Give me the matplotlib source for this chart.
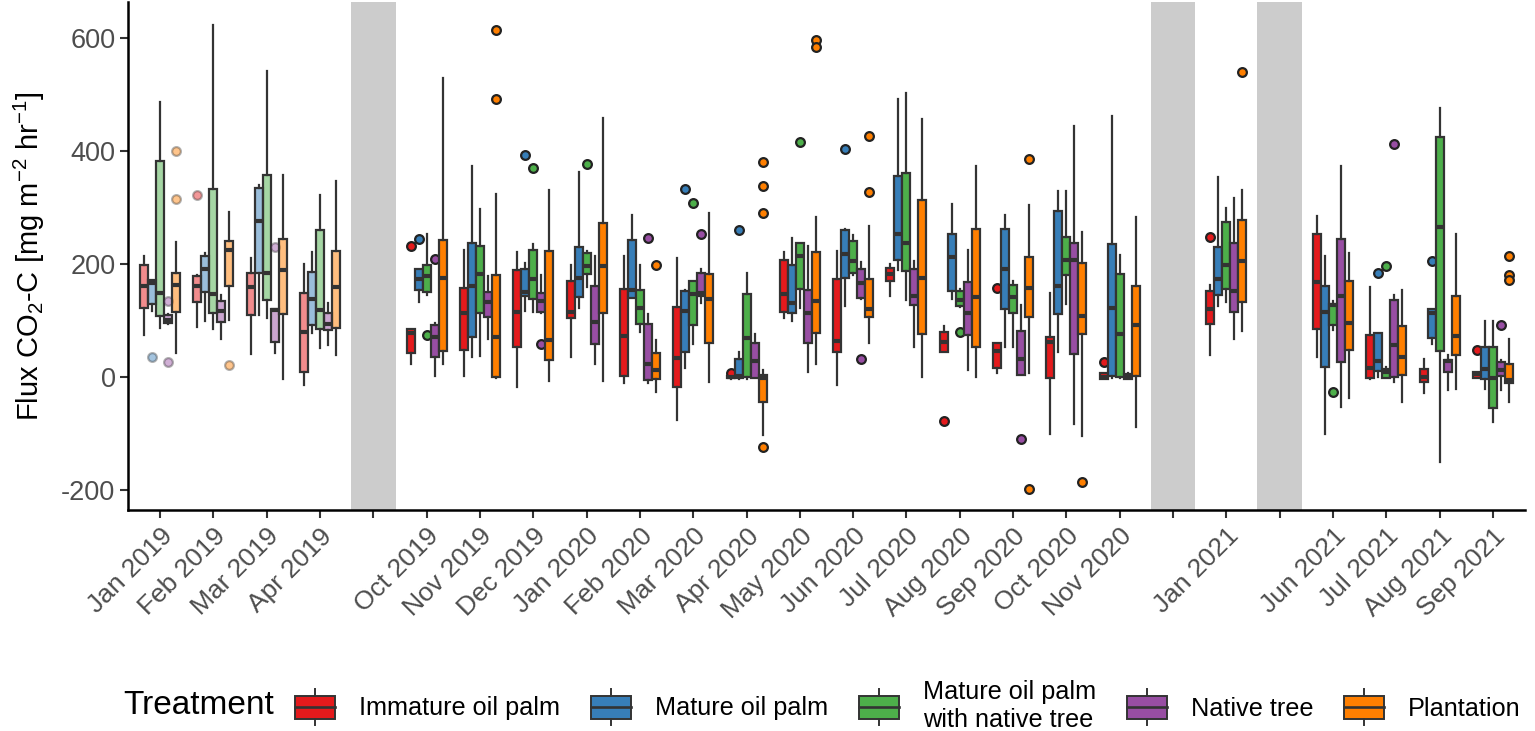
import matplotlib.pyplot as plt
from matplotlib.colors import to_rgba
from matplotlib.patches import Patch, Rectangle
from matplotlib.lines import Line2D
from matplotlib.legend_handler import HandlerBase

plt.rcParams['font.family'] = ['Liberation Sans', 'DejaVu Sans']
plt.rcParams['mathtext.fontset'] = 'custom'
plt.rcParams['mathtext.rm'] = 'Liberation Sans'

# x slots, empty label = gap in sampling (grey band)
slot_labels = [
    "Jan 2019", "Feb 2019", "Mar 2019", "Apr 2019", "",
    "Oct 2019", "Nov 2019", "Dec 2019", "Jan 2020", "Feb 2020", "Mar 2020",
    "Apr 2020", "May 2020", "Jun 2020", "Jul 2020", "Aug 2020", "Sep 2020",
    "Oct 2020", "Nov 2020", "", "Jan 2021", "",
    "Jun 2021", "Jul 2021", "Aug 2021", "Sep 2021",
]
months = [m for m in slot_labels if m]
faded = ["Jan 2019", "Feb 2019", "Mar 2019", "Apr 2019"]

treatments = ["Immature oil palm", "Mature oil palm", "Mature oil palm\nwith native tree",
              "Native tree", "Plantation"]
colors = ["#E41A1C", "#377EB8", "#4DAF4A", "#984EA3", "#FF7F00"]

# box stats per month: (whisker low, q1, median, q3, whisker high)
immature = [
    (74, 122, 162, 199, 214), (89, 133, 161, 179, 181), (41, 110, 160, 184, 211),
    (-14, 10, 80, 149, 201), (24, 43, 79, 85, 85), (2, 48, 113, 158, 226),
    (-17, 54, 115, 189, 221), (35, 104, 116, 170, 199), (-11, 2, 73, 156, 214),
    (-76, -17, 34, 125, 211), (-3, -1, 0, 2, 3), (104, 115, 147, 207, 222),
    (-13, 45, 64, 174, 224), (143, 170, 182, 194, 201), (44, 44, 63, 80, 90),
    (8, 17, 46, 61, 61), (-100, -1, 63, 71, 149), (-4, -3, 1, 7, 8),
    (39, 95, 120, 153, 163), (35, 85, 168, 253, 286), (-4, -2, 17, 74, 160),
    (-28, -8, 1, 14, 33), (-2, -1, 5, 9, 10),
]
mature = [
    (117, 129, 166, 172, 172), (100, 150, 192, 215, 220), (110, 185, 276, 334, 340),
    (79, 92, 138, 187, 221), (133, 154, 173, 191, 191), (35, 71, 161, 237, 374),
    (117, 143, 151, 191, 202), (122, 142, 175, 231, 363), (140, 140, 154, 243, 287),
    (17, 44, 118, 152, 155), (-4, -2, 2, 33, 44), (100, 113, 132, 198, 247),
    (126, 176, 218, 260, 263), (189, 208, 253, 356, 493), (139, 152, 213, 254, 307),
    (54, 120, 192, 263, 287), (45, 111, 162, 294, 330), (-1, 2, 122, 235, 463),
    (126, 145, 174, 230, 355), (-101, 18, 116, 161, 214), (1, 11, 28, 79, 79),
    (58, 70, 113, 120, 120), (-21, -4, 14, 54, 99),
]
mixed = [
    (87, 108, 149, 382, 487), (85, 113, 148, 333, 623), (104, 136, 184, 357, 542),
    (51, 86, 119, 260, 323), (145, 150, 179, 198, 253), (37, 113, 182, 232, 297),
    (116, 138, 173, 226, 235), (159, 182, 197, 219, 223), (80, 95, 123, 155, 199),
    (58, 92, 147, 171, 171), (-4, 1, 70, 148, 185), (122, 156, 215, 237, 237),
    (180, 184, 205, 241, 251), (136, 188, 238, 361, 503), (125, 126, 136, 152, 156),
    (54, 113, 142, 164, 171), (129, 180, 208, 248, 330), (-1, 1, 77, 182, 216),
    (133, 156, 199, 275, 300), (83, 93, 127, 130, 135), (-2, -1, 9, 14, 18),
    (-150, 46, 266, 425, 476), (-80, -54, -1, 54, 99),
]
native = [
    (94, 96, 102, 110, 111), (67, 97, 117, 135, 145), (42, 63, 119, 121, 121),
    (57, 84, 95, 113, 132), (2, 36, 71, 92, 96), (68, 106, 133, 150, 179),
    (114, 116, 135, 149, 181), (24, 58, 98, 161, 215), (-11, -5, 23, 95, 111),
    (132, 143, 149, 184, 192), (-2, -1, 29, 61, 77), (9, 60, 113, 154, 232),
    (139, 141, 167, 191, 204), (54, 127, 143, 191, 205), (12, 74, 113, 169, 226),
    (4, 4, 33, 81, 128), (-83, 41, 208, 237, 444), (-4, -3, 0, 5, 8),
    (68, 115, 152, 237, 317), (-53, 27, 144, 244, 374), (-8, 1, 57, 136, 145),
    (-22, 9, 28, 31, 40), (-23, 2, 12, 27, 30),
]
plantation = [
    (42, 116, 163, 184, 240), (102, 162, 226, 241, 292), (-4, 112, 189, 244, 357),
    (39, 87, 159, 223, 348), (23, 46, 176, 243, 530), (-1, 1, 71, 181, 325),
    (-7, 31, 66, 223, 332), (-7, 113, 197, 273, 458), (-27, -4, 12, 43, 66),
    (-9, 60, 139, 182, 290), (-103, -43, -1, 4, 12), (24, 79, 135, 221, 284),
    (60, 107, 120, 174, 268), (1, 76, 176, 313, 457), (1, 54, 142, 263, 374),
    (7, 107, 157, 213, 304), (-104, 76, 108, 202, 257), (-88, 3, 93, 162, 283),
    (81, 133, 205, 278, 332), (-36, 48, 96, 171, 219), (-44, 4, 36, 91, 154),
    (-20, 40, 73, 143, 254), (-43, -11, -5, 24, 67),
]

# outlying points
immature_out = {"Feb 2019": [322], "Oct 2019": [233], "Apr 2020": [7], "Aug 2020": [-78],
                "Sep 2020": [158], "Nov 2020": [27], "Jan 2021": [248], "Sep 2021": [49]}
mature_out = {"Jan 2019": [35], "Oct 2019": [244], "Dec 2019": [394], "Mar 2020": [333],
              "Apr 2020": [261], "Jun 2020": [404], "Jul 2021": [185], "Aug 2021": [206]}
mixed_out = {"Oct 2019": [74], "Dec 2019": [370], "Jan 2020": [378], "Mar 2020": [308],
             "May 2020": [417], "Aug 2020": [80], "Jun 2021": [-26], "Jul 2021": [197]}
native_out = {"Jan 2019": [135, 27], "Mar 2019": [230], "Oct 2019": [209], "Dec 2019": [58],
              "Feb 2020": [247], "Mar 2020": [253], "Jun 2020": [32], "Sep 2020": [-109],
              "Jul 2021": [412], "Sep 2021": [93]}
plantation_out = {"Jan 2019": [400, 315], "Feb 2019": [22], "Nov 2019": [614, 493],
                  "Feb 2020": [198], "Apr 2020": [381, 339, 291, -123], "May 2020": [597, 585],
                  "Jun 2020": [427, 327], "Sep 2020": [386, -197], "Oct 2020": [-185],
                  "Jan 2021": [540], "Sep 2021": [215, 181, 172]}

series = [immature, mature, mixed, native, plantation]
outliers = [immature_out, mature_out, mixed_out, native_out, plantation_out]
offsets = [-0.3, -0.15, 0.0, 0.15, 0.3]
edge = "#333333"

fig = plt.figure(figsize=(15.35, 7.31), dpi=100)
ax = fig.add_axes([128 / 1535, 1 - 510 / 731, 1397 / 1535, 508 / 731])

for i, lab in enumerate(slot_labels):
    if not lab:
        ax.axvspan(i - 0.42, i + 0.42, color="#CCCCCC", lw=0, zorder=0)

for k in range(5):
    col = colors[k]
    for m, s in zip(months, series[k]):
        a = 0.5 if m in faded else 1.0
        lo, q1, med, q3, hi = s
        stats = dict(whislo=lo, q1=q1, med=med, q3=q3, whishi=hi,
                     fliers=outliers[k].get(m, []))
        x = slot_labels.index(m) + offsets[k]
        ax.bxp([stats], positions=[x], widths=0.15, patch_artist=True,
               showcaps=False, manage_ticks=False,
               boxprops=dict(facecolor=to_rgba(col, a), edgecolor=edge, lw=1.6),
               medianprops=dict(color=edge, lw=3.0, solid_capstyle="butt"),
               whiskerprops=dict(color=edge, lw=1.6),
               flierprops=dict(marker="o", markersize=6.3,
                               markerfacecolor=to_rgba(col, 0.45 if a < 1 else 1),
                               markeredgecolor=to_rgba("#222222", 0.35 if a < 1 else 1),
                               markeredgewidth=1.6))

ax.set_xlim(-0.6, 25.6)
ax.set_ylim(-235, 664)
ax.set_xticks(range(len(slot_labels)))
ax.set_xticklabels(slot_labels, rotation=45, ha="right", va="top",
                   rotation_mode="anchor", fontsize=19, color="#4D4D4D")
ax.set_yticks([-200, 0, 200, 400, 600])
ax.set_yticklabels(["-200", "0", "200", "400", "600"], fontsize=19.5, color="#4D4D4D")
ax.tick_params(axis="both", direction="out", length=6, width=1.5, color="#333333")
ax.tick_params(axis="x", pad=4)
ax.tick_params(axis="y", pad=3)
for sp in ["top", "right"]:
    ax.spines[sp].set_visible(False)
for sp in ["left", "bottom"]:
    ax.spines[sp].set_linewidth(1.8)
    ax.spines[sp].set_color("black")

ax.set_ylabel(r"Flux CO$_\mathregular{2}$-C [mg m$^\mathregular{-2}$ hr$^\mathregular{-1}$]",
              fontsize=21)
ax.yaxis.set_label_coords(-0.058, 0.5)


class BoxKey(HandlerBase):
    def create_artists(self, legend, orig_handle, xd, yd, width, height, fontsize, trans):
        x0, y0 = -xd, -yd
        cx = x0 + width / 2
        rect = Rectangle((x0, y0 + 0.18 * height), width, 0.64 * height,
                         facecolor=orig_handle.get_facecolor(), edgecolor=edge,
                         lw=1.4, transform=trans)
        mid = Line2D([x0, x0 + width], [y0 + 0.5 * height] * 2, color=edge, lw=1.9,
                     transform=trans)
        w1 = Line2D([cx, cx], [y0, y0 + 0.18 * height], color=edge, lw=1.4, transform=trans)
        w2 = Line2D([cx, cx], [y0 + 0.82 * height, y0 + height], color=edge, lw=1.4,
                    transform=trans)
        return [rect, mid, w1, w2]


handles = [Patch(facecolor=c) for c in colors]
fig.legend(handles, treatments, handler_map={Patch: BoxKey()}, ncol=5,
           loc="center left", bbox_to_anchor=(295 / 1535, 1 - 706 / 731),
           frameon=False, fontsize=18.2, handlelength=1.6, handleheight=1.8,
           handletextpad=0.95, columnspacing=1.2, borderpad=0, borderaxespad=0)
fig.text(123 / 1535, 1 - 706 / 731, "Treatment", fontsize=24, ha="left", va="center")

fig.savefig("out.png", dpi=100)
